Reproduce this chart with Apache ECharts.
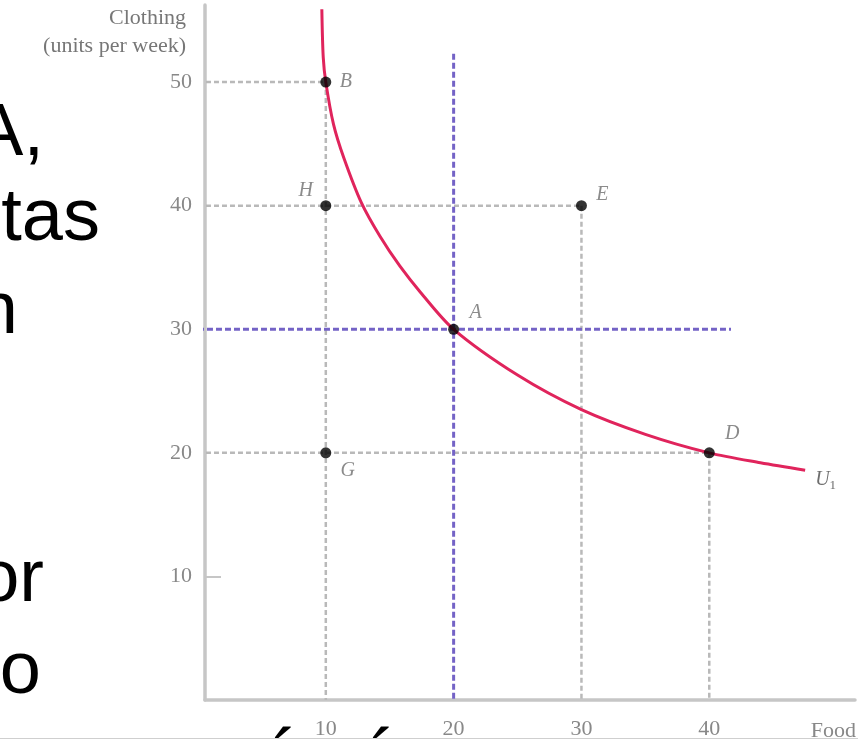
<!DOCTYPE html>
<html>
<head>
<meta charset="utf-8">
<title>Indifference curve U1</title>
<script src="https://cdn.jsdelivr.net/npm/echarts@6.0.0/dist/echarts.min.js"></script>
<style>
  html, body { margin: 0; padding: 0; background: #fff; }
  #chart { width: 858px; height: 740px; }
</style>
</head>
<body>
<div id="chart"></div>
<script>
// tick labels
const xTicks = [10, 20, 30, 40];
const yTicks = [10, 20, 30, 40, 50];

// indifference curve U1
const curveX = [9.69, 9.8, 10, 10.6, 11.4, 12.8, 14.25, 15.8, 17.4, 20, 25, 30, 35, 40, 44, 47.5];
const curveY = [55.9, 52.0, 50, 46.6, 43.9, 40.2, 37.5, 35.1, 33.0, 30, 26.3, 23.5, 21.5, 20, 19.2, 18.6];

// market baskets
const pointNames = ['B', 'H', 'E', 'A', 'G', 'D'];
const pointX = [10, 10, 30, 20, 10, 40];
const pointY = [50, 40, 40, 30, 20, 20];

// dashed guides: [x1, y1, x2, y2]
const grayGuides = [
  [0, 50, 10, 50], [10, 50, 10, 0],
  [0, 40, 30, 40], [30, 40, 30, 0],
  [0, 20, 40, 20], [40, 20, 40, 0]
];
const purpleGuides = [
  [0, 30, 41.7, 30],
  [20, 52.3, 20, 0]
];

// slide text fragments cut by the left edge
const slideLines = ['A,', 'tas', 'n', 'or', 'o'];

const chart = echarts.init(document.getElementById('chart'));

const serif = 'Liberation Serif';
const labelGray = '#6e6e6e';

// where each point's letter sits relative to the dot
const labelOffsets = {
  B: [20, 0], H: [-20, -15], E: [21, -11],
  A: [22, -17], G: [22, 18], D: [23, -19]
};

function guideSeries(seg, color, width, dash, z) {
  return {
    type: 'line',
    data: [[seg[0], seg[1]], [seg[2], seg[3]]],
    symbol: 'none',
    silent: true,
    z: z,
    lineStyle: { color: color, width: width, type: dash }
  };
}

const series = [];
grayGuides.forEach(s => series.push(guideSeries(s, '#b9b9b9', 2.5, [5, 3], 2)));
purpleGuides.forEach(s => series.push(guideSeries(s, '#7463c6', 3, [6, 3], 3)));

series.push({
  type: 'line',
  data: curveX.map((x, i) => [x, curveY[i]]),
  smooth: 0.3,
  symbol: 'none',
  z: 4,
  lineStyle: { color: '#e0245c', width: 3 },
  endLabel: {
    show: true,
    offset: [2, 10],
    formatter: '{u|U}{s|1}',
    rich: {
      u: { fontFamily: serif, fontStyle: 'italic', fontSize: 20, color: labelGray },
      s: { fontFamily: serif, fontSize: 13, color: labelGray, padding: [10, 0, 0, 0] }
    }
  }
});

series.push({
  type: 'scatter',
  z: 5,
  symbolSize: 11,
  itemStyle: { color: '#000' },
  data: pointNames.map((n, i) => ({
    value: [pointX[i], pointY[i]],
    name: n,
    label: {
      show: true,
      position: 'inside',
      offset: labelOffsets[n],
      formatter: n,
      fontFamily: serif,
      fontStyle: 'italic',
      fontSize: 20,
      color: labelGray
    }
  }))
});

const graphic = [
  {
    type: 'text', x: 186, y: 18,
    style: { text: 'Clothing', font: '22px "Liberation Serif"', fill: '#777', align: 'right', verticalAlign: 'middle' }
  },
  {
    type: 'text', x: 186, y: 46,
    style: { text: '(units per week)', font: '22px "Liberation Serif"', fill: '#777', align: 'right', verticalAlign: 'middle' }
  },
  {
    type: 'text', x: 856, y: 731,
    style: { text: 'Food', font: '22px "Liberation Serif"', fill: '#888', align: 'right', verticalAlign: 'middle' }
  },
  {
    type: 'line', silent: true,
    shape: { x1: 0, y1: 738.5, x2: 858, y2: 738.5 },
    style: { stroke: '#cfcfcf', lineWidth: 1 }
  }
];

// big slide text, right edges and baselines as seen
const slideRight = [44, 100, 18, 44, 41];
const slideBase = [162, 247, 340, 608, 700];
slideLines.forEach((t, i) => {
  graphic.push({
    type: 'text', x: slideRight[i], y: slideBase[i] - 27,
    style: { text: t, font: '74px "Liberation Sans"', fill: '#000', align: 'right', verticalAlign: 'middle' }
  });
});
// accents of the next line peeking in at the bottom
[285, 383].forEach(x => {
  graphic.push({
    type: 'text', x: x, y: 762,
    style: { text: '\u00b4', font: '76px "Liberation Sans"', fill: '#000', align: 'center', verticalAlign: 'middle' }
  });
});

const option = {
  backgroundColor: '#fff',
  animation: false,
  grid: { left: 205, right: 3, top: 5, bottom: 32 },
  xAxis: {
    type: 'value',
    min: 0.55,
    max: 51.4,
    splitLine: { show: false },
    axisTick: { show: false },
    axisLine: { onZero: false, lineStyle: { color: '#c6c6c6', width: 3.5 } },
    axisLabel: {
      customValues: xTicks,
      margin: 18,
      fontFamily: serif,
      fontSize: 22,
      color: '#888'
    }
  },
  yAxis: {
    type: 'value',
    min: 0,
    max: 56.24,
    splitLine: { show: false },
    axisTick: {
      show: true,
      inside: true,
      length: 16,
      customValues: [10],
      lineStyle: { color: '#c6c6c6', width: 2 }
    },
    axisLine: { show: true, onZero: false, lineStyle: { color: '#c6c6c6', width: 3.5 } },
    axisLabel: {
      customValues: yTicks,
      margin: 13,
      fontFamily: serif,
      fontSize: 22,
      color: '#888'
    }
  },
  graphic: graphic,
  series: series
};

chart.setOption(option);
</script>
</body>
</html>
